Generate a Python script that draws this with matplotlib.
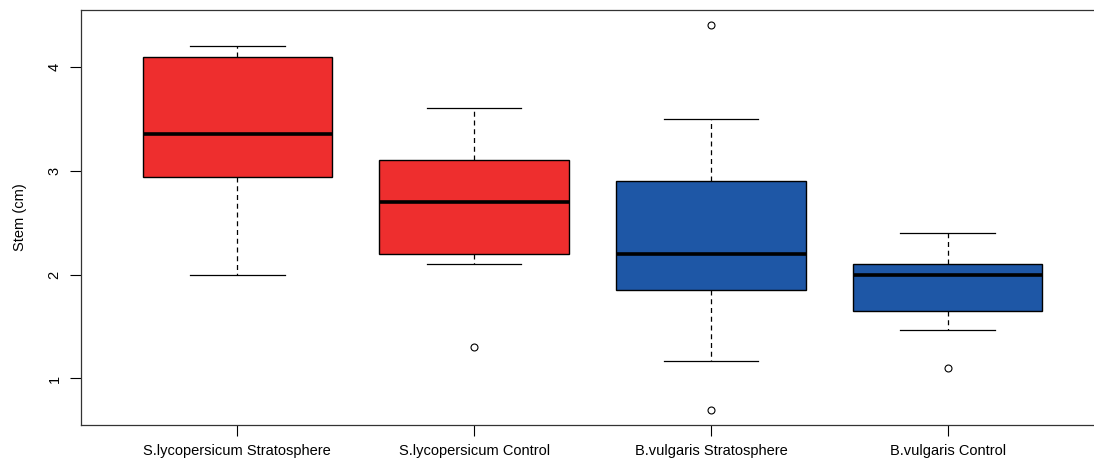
import matplotlib
matplotlib.use("Agg")
import matplotlib.pyplot as plt

plt.rcParams["font.family"] = ["Liberation Sans", "DejaVu Sans"]

# ---------- data ----------
groups = ["S.lycopersicum Stratosphere", "S.lycopersicum Control",
          "B.vulgaris Stratosphere", "B.vulgaris Control"]
whisker_low = [2.0, 2.1, 1.17, 1.47]
q1 = [2.94, 2.2, 1.85, 1.65]
median = [3.35, 2.7, 2.2, 2.0]
q3 = [4.1, 3.1, 2.9, 2.1]
whisker_high = [4.2, 3.6, 3.5, 2.4]
outliers = [[], [1.3], [4.4, 0.7], [1.1]]
box_colors = ["#EE2E2E", "#EE2E2E", "#1E57A6", "#1E57A6"]

stats = [
    {"label": g, "whislo": lo, "q1": a, "med": m, "q3": b, "whishi": hi, "fliers": f}
    for g, lo, a, m, b, hi, f in zip(groups, whisker_low, q1, median, q3,
                                      whisker_high, outliers)
]

fig = plt.figure(figsize=(10.94, 4.61), dpi=100)
ax = fig.add_axes([81 / 1094, 36 / 461, 1023 / 1094, 415 / 461])

bp = ax.bxp(
    stats, positions=[1, 2, 3, 4], widths=0.8, capwidths=0.4,
    patch_artist=True,
    boxprops=dict(edgecolor="black", linewidth=1),
    medianprops=dict(color="black", linewidth=2.6, solid_capstyle="butt"),
    whiskerprops=dict(color="black", linewidth=0.9, linestyle=(0, (4, 3))),
    capprops=dict(color="black", linewidth=0.9),
    flierprops=dict(marker="o", markersize=5, markerfacecolor="none",
                    markeredgecolor="black", markeredgewidth=0.8),
)
for patch, c in zip(bp["boxes"], box_colors):
    patch.set_facecolor(c)

ax.set_xlim(0.34, 4.66)
ax.set_ylim(0.552, 4.548)
ax.set_yticks([1, 2, 3, 4])
ax.set_yticklabels(["1", "2", "3", "4"], rotation=90, va="center")
ax.set_xticks([1, 2, 3, 4])
ax.set_xticklabels(groups)
ax.tick_params(axis="both", length=8, width=0.8, labelsize=10.5, colors="black")
ax.tick_params(axis="x", pad=6)
ax.tick_params(axis="y", pad=6)
ax.set_ylabel("Stem (cm)", fontsize=10.5, labelpad=15)
ax.spines["right"].set_visible(False)
for s in ax.spines.values():
    s.set_linewidth(0.9)
    s.set_color("#333333")

fig.savefig("out.png", dpi=100)
